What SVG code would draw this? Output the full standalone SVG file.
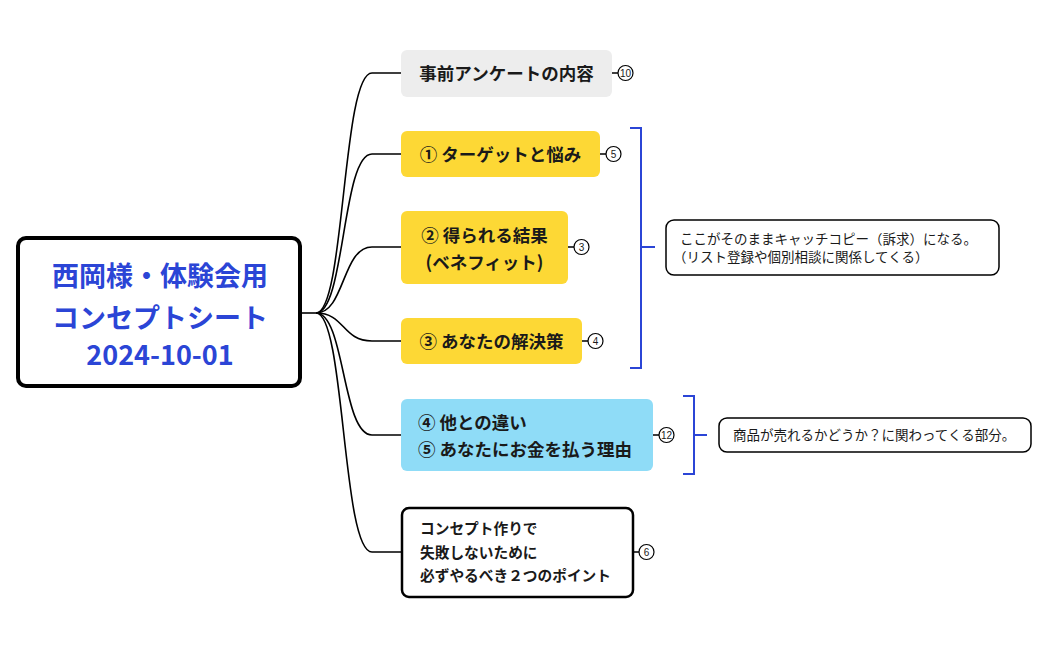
<svg xmlns="http://www.w3.org/2000/svg" width="1049" height="650" viewBox="0 0 1049 650">
<style>
text{font-family:"Noto Sans CJK JP","Noto Sans",sans-serif;fill:#1a1a1a}
.t{font-size:17.5px;font-weight:700}
.s{font-size:14.7px;font-weight:700}
.n{font-size:13.5px;font-weight:400}
.title{font-size:27px;font-weight:700;fill:#2b45d6}
.c{fill:none;stroke:#000;stroke-width:1.6}
.b{fill:none;stroke:#2b45d6;stroke-width:2}
.badge circle{fill:#fff;stroke:#000;stroke-width:1.2}
.badge text{font-size:10px;font-family:"Liberation Sans",sans-serif}
</style>
<rect width="1049" height="650" fill="#fff"/>
<g id="connectors">
<path class="c" d="M300,313 H316"/>
<path class="c" d="M316,313 C345,313 342,73 372,73 H401"/>
<path class="c" d="M316,313 C345,313 342,154 372,154 H401"/>
<path class="c" d="M316,313 C345,313 342,247 372,247 H401"/>
<path class="c" d="M316,313 C345,313 342,341 372,341 H401"/>
<path class="c" d="M316,313 C345,313 342,435 372,435 H401"/>
<path class="c" d="M316,313 C345,313 342,552 372,552 H402"/>
<path class="c" d="M612,73 H618 M600,154 H606 M568,247 H574 M582,341 H588 M653,435 H659 M633,552 H640"/>
<path class="b" d="M630,128 H641 V368 H630 M641,247 H655"/>
<path class="b" d="M683,396 H694 V474 H683 M694,435 H707"/>
</g>
<g id="center">
<rect x="18" y="238" width="282" height="148" rx="8" fill="#fff" stroke="#000" stroke-width="4"/>
<text class="title" x="160" y="286" text-anchor="middle">西岡様・体験会用</text>
<text class="title" x="160" y="328" text-anchor="middle">コンセプトシート</text>
<text class="title" x="160" y="365" text-anchor="middle">2024-10-01</text>
</g>
<g id="n1">
<rect x="401" y="50" width="211" height="47" rx="6" fill="#ededed"/>
<text class="t" x="506.5" y="79.5" text-anchor="middle">事前アンケートの内容</text>
<g class="badge"><circle cx="625.5" cy="73" r="7.5"/><text x="625.5" y="76.5" text-anchor="middle">10</text></g>
</g>
<g id="n2">
<rect x="401" y="131" width="199" height="46" rx="6" fill="#fdd835"/>
<text class="t" x="500.5" y="160.5" text-anchor="middle">① ターゲットと悩み</text>
<g class="badge"><circle cx="613.5" cy="154" r="7.5"/><text x="613.5" y="157.5" text-anchor="middle">5</text></g>
</g>
<g id="n3">
<rect x="401" y="211" width="167" height="73" rx="6" fill="#fdd835"/>
<text class="t" x="484.5" y="241.5" text-anchor="middle">② 得られる結果</text>
<text class="t" x="484.5" y="268.5" text-anchor="middle">(ベネフィット)</text>
<g class="badge"><circle cx="581.5" cy="247" r="7.5"/><text x="581.5" y="250.5" text-anchor="middle">3</text></g>
</g>
<g id="n4">
<rect x="401" y="318" width="181" height="46" rx="6" fill="#fdd835"/>
<text class="t" x="491.5" y="347.5" text-anchor="middle">③ あなたの解決策</text>
<g class="badge"><circle cx="595.5" cy="341" r="7.5"/><text x="595.5" y="344.5" text-anchor="middle">4</text></g>
</g>
<g id="n5">
<rect x="401" y="399" width="252" height="72" rx="6" fill="#8fdcf7"/>
<text class="t" x="418" y="428.5">④ 他との違い</text>
<text class="t" x="418" y="455.5">⑤ あなたにお金を払う理由</text>
<g class="badge"><circle cx="666.5" cy="435" r="7.5"/><text x="666.5" y="438.5" text-anchor="middle">12</text></g>
</g>
<g id="n6">
<rect x="402" y="508" width="231" height="89" rx="7" fill="#fff" stroke="#000" stroke-width="2.5"/>
<text class="s" x="420" y="534">コンセプト作りで</text>
<text class="s" x="420" y="557.5">失敗しないために</text>
<text class="s" x="420" y="581">必ずやるべき２つのポイント</text>
<g class="badge"><circle cx="646.5" cy="552" r="7.5"/><text x="646.5" y="555.5" text-anchor="middle">6</text></g>
</g>
<g id="note1">
<rect x="666" y="220" width="333" height="55" rx="8" fill="#fff" stroke="#000" stroke-width="1.5"/>
<text class="n" x="680" y="243.5">ここがそのままキャッチコピー（訴求）になる。</text>
<text class="n" x="673" y="262">（リスト登録や個別相談に関係してくる）</text>
</g>
<g id="note2">
<rect x="719" y="418" width="312" height="34" rx="8" fill="#fff" stroke="#000" stroke-width="1.5"/>
<text class="n" x="733" y="440">商品が売れるかどうか？に関わってくる部分。</text>
</g>
</svg>
